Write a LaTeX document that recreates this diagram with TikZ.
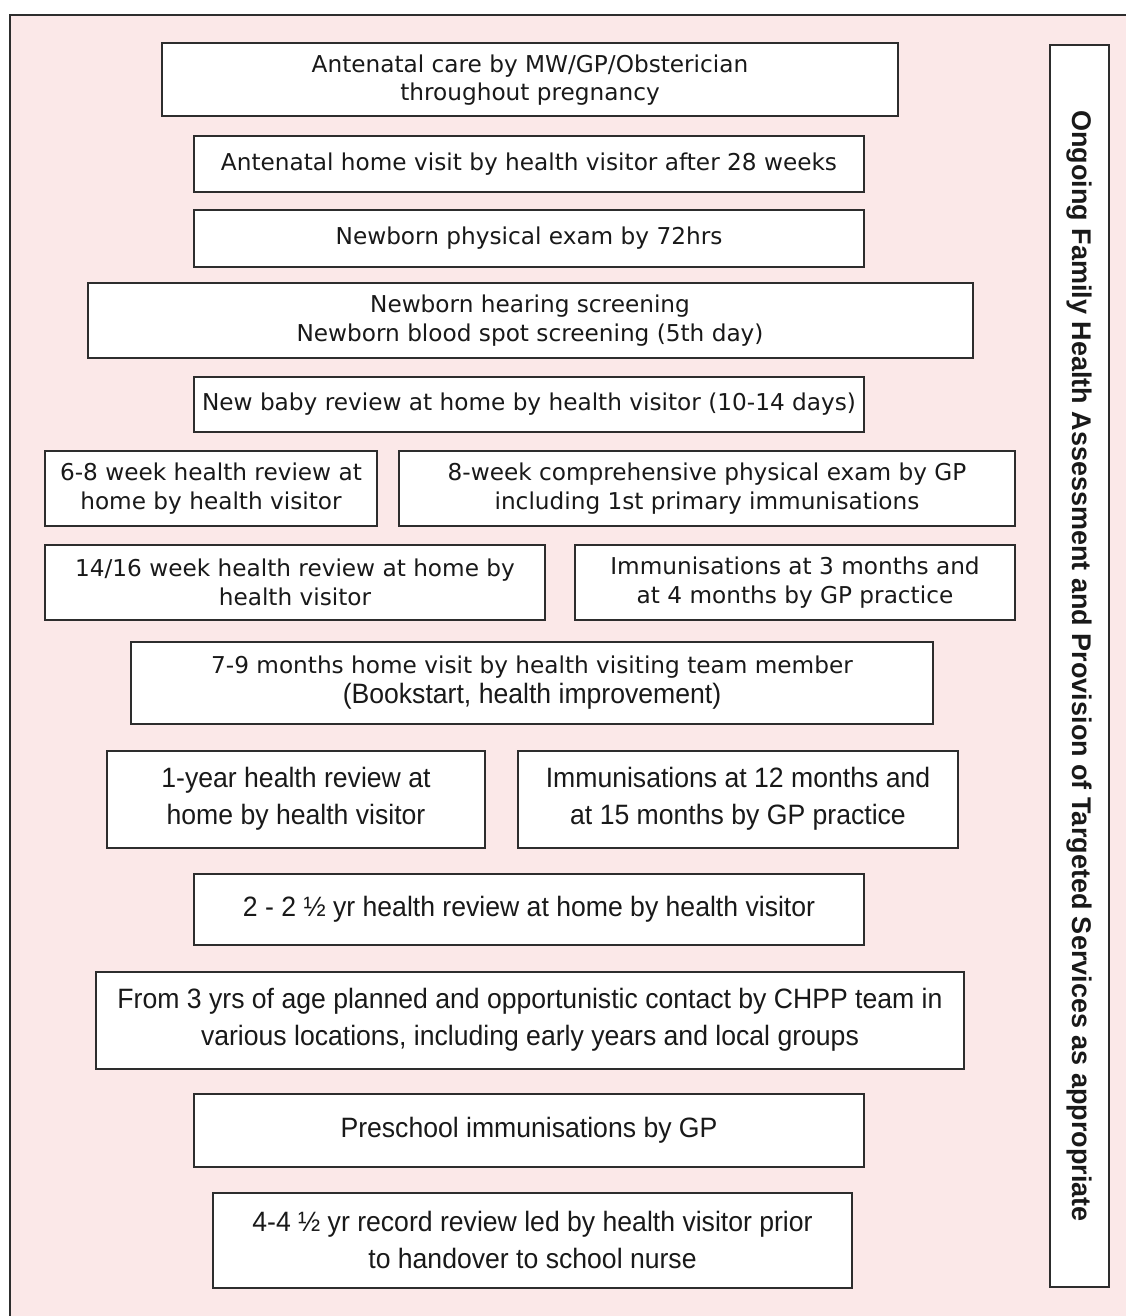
\documentclass[tikz,border=0pt]{standalone}
\usepackage{fontspec}
\setmainfont{DejaVu Sans}
\newfontfamily\narrowfont[FakeStretch=0.95]{Liberation Sans}
\newfontfamily\sidefont{Liberation Sans}

\definecolor{panelpink}{RGB}{251,232,232}
\definecolor{rulegray}{RGB}{45,45,45}

\newcommand{\upperfont}{\fontsize{23.2}{28.5}\selectfont}
\newcommand{\lowerfont}{\narrowfont\fontsize{28}{37}\selectfont}
\newcommand{\sidetextfont}{\sidefont\bfseries\fontsize{27}{32}\selectfont}
\newcommand{\midcolx}{529}
\newcommand{\midcolw}{670pt}

\tikzset{
  stagebox/.style 2 args={draw=rulegray, line width=2pt, fill=white,
    inner sep=0pt, align=center, text=black!90,
    minimum width=#1, minimum height=#2},
}

\begin{document}
\begin{tikzpicture}[x=1pt, y=-1pt, font=\upperfont]
  \useasboundingbox (0,0) rectangle (1126,1316);

  % panel, open to the right and bottom
  \fill[panelpink] (10,15) rectangle (1140,1330);
  \draw[rulegray, line width=2pt] (1140,15) -- (10,15) -- (10,1330);

  % antenatal and newborn
  \node (antenatal) at (530,80) [stagebox={736pt}{73pt}]
    {Antenatal care by MW/GP/Obsterician\\throughout pregnancy};
  \node (hvvisit) at (\midcolx,164) [stagebox={\midcolw}{56pt}]
    {Antenatal home visit by health visitor after 28 weeks};
  \node (physexam) at (\midcolx,238) [stagebox={\midcolw}{57pt}]
    {Newborn physical exam by 72hrs};
  \node (screening) at (530,320.5) [stagebox={885pt}{75pt}]
    {Newborn hearing screening\\Newborn blood spot screening (5th day)};
  \node (newbaby) at (\midcolx,404.5) [stagebox={\midcolw}{55pt}]
    {New baby review at home by health visitor (10-14 days)};

  % first months
  \node (review6w) at (211,488.5) [stagebox={332pt}{75pt}]
    {6-8 week health review at\\home by health visitor};
  \node (exam8w) at (707,488.5) [stagebox={616pt}{75pt}]
    {8-week comprehensive physical exam by GP\\including 1st primary immunisations};
  \node (review14w) at (295,582.5) [stagebox={500pt}{75pt}]
    {14/16 week health review at home by\\health visitor};
  \node (immun3m) at (795,582.5) [stagebox={440pt}{75pt}]
    {Immunisations at 3 months and\\at 4 months by GP practice};
  \node (visit7m) at (532,682.5) [stagebox={802pt}{82pt}]
    {7-9 months home visit by health visiting team member\\[1pt]
     {\lowerfont (Bookstart, health improvement)}};

  % toddler and preschool
  \node (review1y) at (296,799) [stagebox={378pt}{97pt}, font=\lowerfont]
    {1-year health review at\\home by health visitor};
  \node (immun12m) at (738,799) [stagebox={440pt}{97pt}, font=\lowerfont]
    {Immunisations at 12 months and\\at 15 months by GP practice};
  \node (review2y) at (\midcolx,909.5) [stagebox={\midcolw}{71pt}, font=\lowerfont]
    {2 - 2 ½ yr health review at home by health visitor};
  \node (contact3y) at (530,1020) [stagebox={868pt}{97pt}, font=\lowerfont]
    {From 3 yrs of age planned and opportunistic contact by CHPP team in\\
     various locations, including early years and local groups};
  \node (preschool) at (\midcolx,1130) [stagebox={\midcolw}{73pt}, font=\lowerfont]
    {Preschool immunisations by GP};
  \node (review4y) at (532.5,1240) [stagebox={639pt}{95pt}, font=\lowerfont]
    {4-4 ½ yr record review led by health visitor prior\\to handover to school nurse};

  % side bar
  \node (ongoing) at (1079.5,666) [stagebox={1242pt}{59pt}, rotate=-90,
    font=\sidetextfont]
    {Ongoing Family Health Assessment and Provision of Targeted Services as appropriate};
\end{tikzpicture}
\end{document}
